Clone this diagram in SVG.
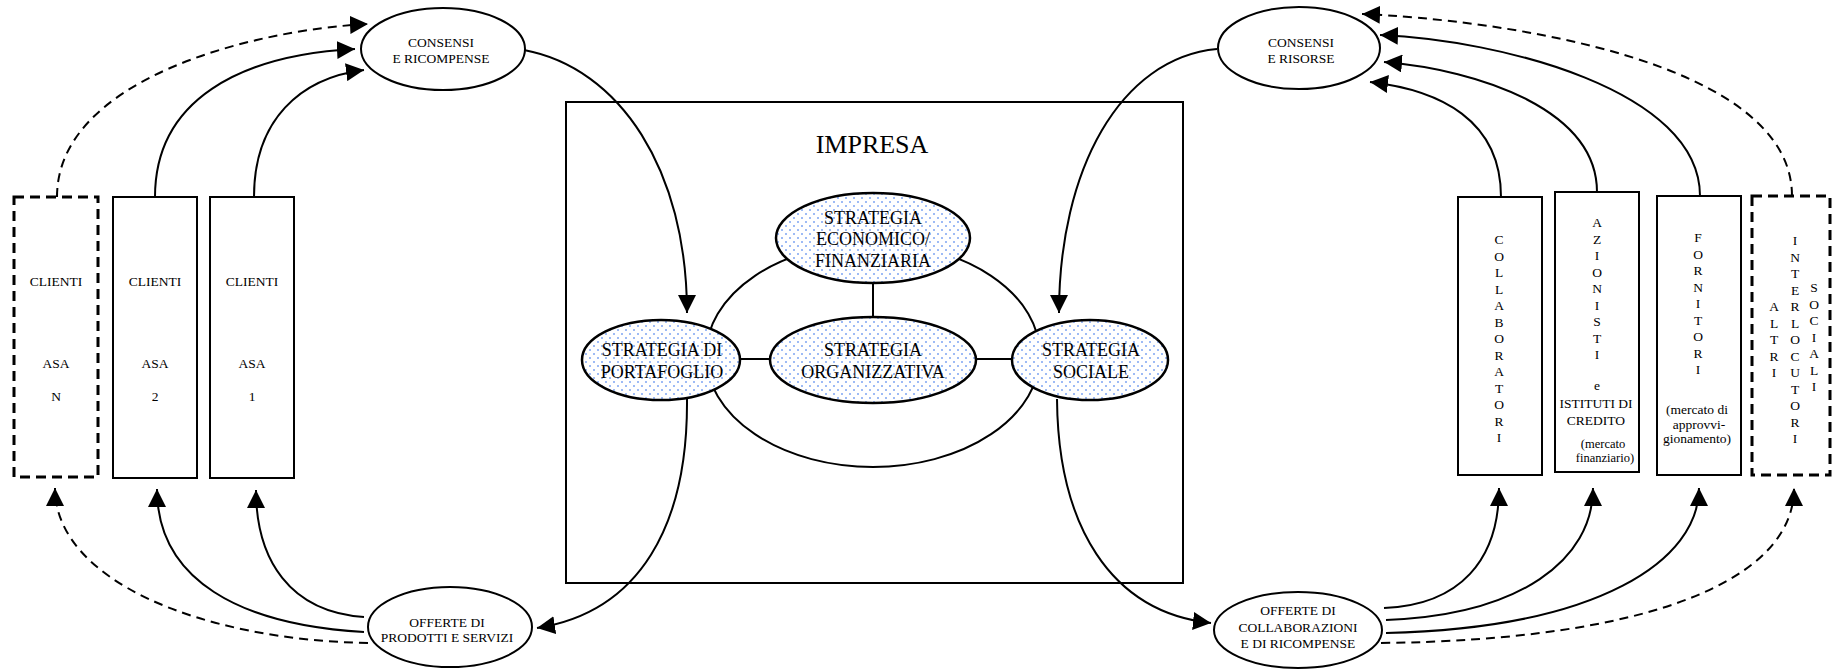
<svg xmlns="http://www.w3.org/2000/svg" width="1834" height="669" viewBox="0 0 1834 669">
<style>
text{font-family:"Liberation Serif","Times New Roman",serif;fill:#000;text-anchor:middle}
.s{font-size:13.5px}
.p{font-size:12.5px}
.m{font-size:18px}
.l{font-size:26px}
.ln{fill:none;stroke:#000;stroke-width:2}
.ar{fill:none;stroke:#000;stroke-width:2;marker-end:url(#ah)}
.da{fill:none;stroke:#000;stroke-width:2;stroke-dasharray:9 6;marker-end:url(#ah)}
.bx{fill:#fff;stroke:#000;stroke-width:2}
.bd{fill:#fff;stroke:#000;stroke-width:3;stroke-dasharray:10 6}
.el{fill:#fff;stroke:#000;stroke-width:2}
.st{fill:url(#dots);stroke:#000;stroke-width:2.5}
</style>
<defs>
<marker id="ah" markerUnits="userSpaceOnUse" markerWidth="19" markerHeight="18" refX="18" refY="9" orient="auto">
<path d="M0,0 L18,9 L0,18 z" fill="#000"/>
</marker>
<pattern id="dots" patternUnits="userSpaceOnUse" width="8" height="8">
<rect width="8" height="8" fill="#fff"/>
<circle cx="2" cy="2" r="1" fill="#7ea4f2"/>
<circle cx="6" cy="6" r="1" fill="#7ea4f2"/>
</pattern>
</defs>
<rect width="1834" height="669" fill="#fff"/>

<g id="impresa">
<rect x="566" y="102" width="617" height="481" fill="#fff" stroke="#000" stroke-width="2"/>
<text class="l" x="872" y="153">IMPRESA</text>
<ellipse cx="873" cy="355" rx="167" ry="112" class="ln"/>
</g>

<g id="connectors">
<line x1="873" y1="283" x2="873" y2="317" class="ln"/>
<line x1="741" y1="359" x2="770" y2="359" class="ln"/>
<line x1="976" y1="359" x2="1012" y2="359" class="ln"/>
<path class="ar" d="M524,50 C620,68 687,170 687,313"/>
<path class="ar" d="M1217,49 C1120,58 1059,170 1059,313"/>
<path class="ar" d="M687,399 C688,525 640,612 537,628"/>
<path class="ar" d="M1057,399 C1058,525 1110,612 1211,623"/>
<path class="ar" d="M155,197 C155,100 240,55 355,49"/>
<path class="ar" d="M254,197 C254,120 300,78 364,70"/>
<path class="da" d="M57,197 C57,80 250,30 368,24"/>
<path class="ar" d="M364,617 C290,612 256,560 256,490"/>
<path class="ar" d="M364,632 C240,625 157,580 157,489"/>
<path class="da" d="M368,643 C200,640 55,580 55,488"/>
<path class="ar" d="M1501,197 C1501,120 1440,90 1370,82"/>
<path class="ar" d="M1597,192 C1597,110 1480,70 1384,62"/>
<path class="ar" d="M1700,196 C1700,90 1500,40 1380,35"/>
<path class="da" d="M1792,196 C1792,60 1500,20 1362,14"/>
<path class="ar" d="M1384,608 C1460,605 1499,560 1499,488"/>
<path class="ar" d="M1386,620 C1520,615 1593,560 1593,488"/>
<path class="ar" d="M1386,633 C1600,628 1699,560 1699,488"/>
<path class="da" d="M1381,643 C1650,640 1794,580 1794,488"/>
</g>

<g id="strategia-economico">
<ellipse cx="873" cy="238" rx="97" ry="45" class="st"/>
<text class="m" x="873" y="224">STRATEGIA</text>
<text class="m" x="873" y="245">ECONOMICO/</text>
<text class="m" x="873" y="267">FINANZIARIA</text>
</g>
<g id="strategia-portafoglio">
<ellipse cx="661" cy="360" rx="79" ry="40" class="st"/>
<text class="m" x="662" y="356">STRATEGIA DI</text>
<text class="m" x="662" y="378">PORTAFOGLIO</text>
</g>
<g id="strategia-organizzativa">
<ellipse cx="873" cy="360" rx="103" ry="43" class="st"/>
<text class="m" x="873" y="356">STRATEGIA</text>
<text class="m" x="873" y="378">ORGANIZZATIVA</text>
</g>
<g id="strategia-sociale">
<ellipse cx="1090" cy="360" rx="78" ry="40" class="st"/>
<text class="m" x="1091" y="356">STRATEGIA</text>
<text class="m" x="1091" y="378">SOCIALE</text>
</g>

<g id="consensi-ricompense">
<ellipse cx="443" cy="49" rx="82" ry="41" class="el"/>
<text class="s" x="441" y="47">CONSENSI</text>
<text class="s" x="441" y="63">E RICOMPENSE</text>
</g>
<g id="offerte-prodotti">
<ellipse cx="450" cy="627" rx="82" ry="40" class="el"/>
<text class="s" x="447" y="627">OFFERTE DI</text>
<text class="s" x="447" y="642">PRODOTTI E SERVIZI</text>
</g>
<g id="consensi-risorse">
<ellipse cx="1299" cy="48" rx="81" ry="41" class="el"/>
<text class="s" x="1301" y="47">CONSENSI</text>
<text class="s" x="1301" y="63">E RISORSE</text>
</g>
<g id="offerte-collaborazioni">
<ellipse cx="1298" cy="630" rx="84" ry="38" class="el"/>
<text class="s" x="1298" y="615">OFFERTE DI</text>
<text class="s" x="1298" y="632">COLLABORAZIONI</text>
<text class="s" x="1298" y="648">E DI RICOMPENSE</text>
</g>

<g id="clienti-n">
<rect x="14" y="197" width="84" height="280" class="bd"/>
<text class="s" x="56" y="286">CLIENTI</text>
<text class="s" x="56" y="368">ASA</text>
<text class="s" x="56" y="401">N</text>
</g>
<g id="clienti-2">
<rect x="113" y="197" width="84" height="281" class="bx"/>
<text class="s" x="155" y="286">CLIENTI</text>
<text class="s" x="155" y="368">ASA</text>
<text class="s" x="155" y="401">2</text>
</g>
<g id="clienti-1">
<rect x="210" y="197" width="84" height="281" class="bx"/>
<text class="s" x="252" y="286">CLIENTI</text>
<text class="s" x="252" y="368">ASA</text>
<text class="s" x="252" y="401">1</text>
</g>

<g id="collaboratori">
<rect x="1458" y="197" width="84" height="278" class="bx"/>
<text class="s" y="244"><tspan x="1499">C</tspan><tspan x="1499" dy="16.5">O</tspan><tspan x="1499" dy="16.5">L</tspan><tspan x="1499" dy="16.5">L</tspan><tspan x="1499" dy="16.5">A</tspan><tspan x="1499" dy="16.5">B</tspan><tspan x="1499" dy="16.5">O</tspan><tspan x="1499" dy="16.5">R</tspan><tspan x="1499" dy="16.5">A</tspan><tspan x="1499" dy="16.5">T</tspan><tspan x="1499" dy="16.5">O</tspan><tspan x="1499" dy="16.5">R</tspan><tspan x="1499" dy="16.5">I</tspan></text>
</g>
<g id="azionisti">
<rect x="1555" y="192" width="84" height="280" class="bx"/>
<text class="s" y="227"><tspan x="1597">A</tspan><tspan x="1597" dy="16.5">Z</tspan><tspan x="1597" dy="16.5">I</tspan><tspan x="1597" dy="16.5">O</tspan><tspan x="1597" dy="16.5">N</tspan><tspan x="1597" dy="16.5">I</tspan><tspan x="1597" dy="16.5">S</tspan><tspan x="1597" dy="16.5">T</tspan><tspan x="1597" dy="16.5">I</tspan></text>
<text class="s" x="1597" y="390">e</text>
<text class="s" x="1596" y="408">ISTITUTI DI</text>
<text class="s" x="1596" y="425">CREDITO</text>
<text class="p" x="1603" y="448">(mercato</text>
<text class="p" x="1605" y="462">finanziario)</text>
</g>
<g id="fornitori">
<rect x="1657" y="196" width="84" height="279" class="bx"/>
<text class="s" y="242"><tspan x="1698">F</tspan><tspan x="1698" dy="16.5">O</tspan><tspan x="1698" dy="16.5">R</tspan><tspan x="1698" dy="16.5">N</tspan><tspan x="1698" dy="16.5">I</tspan><tspan x="1698" dy="16.5">T</tspan><tspan x="1698" dy="16.5">O</tspan><tspan x="1698" dy="16.5">R</tspan><tspan x="1698" dy="16.5">I</tspan></text>
<text class="s" x="1697" y="414">(mercato di</text>
<text class="s" x="1699" y="429">approvvi-</text>
<text class="s" x="1697" y="443">gionamento)</text>
</g>
<g id="altri-interlocutori-sociali">
<rect x="1752" y="196" width="78" height="279" class="bd"/>
<text class="s" y="311"><tspan x="1774">A</tspan><tspan x="1774" dy="16.5">L</tspan><tspan x="1774" dy="16.5">T</tspan><tspan x="1774" dy="16.5">R</tspan><tspan x="1774" dy="16.5">I</tspan></text>
<text class="s" y="245"><tspan x="1795">I</tspan><tspan x="1795" dy="16.5">N</tspan><tspan x="1795" dy="16.5">T</tspan><tspan x="1795" dy="16.5">E</tspan><tspan x="1795" dy="16.5">R</tspan><tspan x="1795" dy="16.5">L</tspan><tspan x="1795" dy="16.5">O</tspan><tspan x="1795" dy="16.5">C</tspan><tspan x="1795" dy="16.5">U</tspan><tspan x="1795" dy="16.5">T</tspan><tspan x="1795" dy="16.5">O</tspan><tspan x="1795" dy="16.5">R</tspan><tspan x="1795" dy="16.5">I</tspan></text>
<text class="s" y="292"><tspan x="1814">S</tspan><tspan x="1814" dy="16.5">O</tspan><tspan x="1814" dy="16.5">C</tspan><tspan x="1814" dy="16.5">I</tspan><tspan x="1814" dy="16.5">A</tspan><tspan x="1814" dy="16.5">L</tspan><tspan x="1814" dy="16.5">I</tspan></text>
</g>
</svg>
